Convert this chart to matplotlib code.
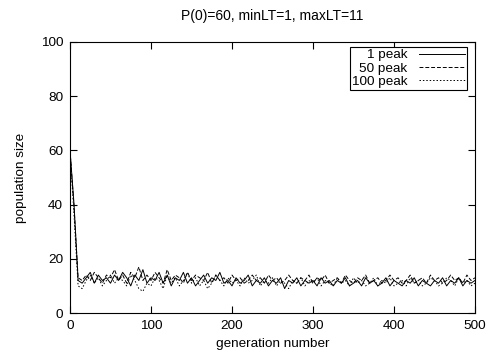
import numpy as np
import matplotlib
matplotlib.use('Agg')
import matplotlib.pyplot as plt

# population size sampled every 5 generations (0..500)
gen = np.arange(0, 501, 5)

peak_1 = [60, 40, 12, 11, 13, 15, 11, 14, 12, 13,
          11, 14, 12, 15, 13, 10, 14, 12, 16, 11,
          13, 12, 15, 11, 14, 10, 13, 12, 15, 11,
          13, 10, 12, 14, 11, 13, 12, 15, 11, 12,
          10, 13, 11, 12, 14, 10, 12, 11, 13, 10,
          12, 11, 13, 9, 12, 11, 13, 10, 12, 11,
          12, 10, 13, 11, 12, 10, 12, 11, 13, 10,
          11, 12, 10, 13, 11, 12, 10, 11, 13, 10,
          12, 11, 10, 12, 11, 13, 10, 12, 11, 10,
          12, 11, 13, 10, 12, 11, 13, 10, 12, 11,
          12]

peak_50 = [60, 39, 13, 12, 14, 12, 15, 13, 11, 14,
           13, 16, 12, 14, 11, 15, 13, 17, 12, 14,
           12, 15, 13, 11, 16, 12, 14, 13, 11, 15,
           12, 14, 13, 12, 15, 11, 14, 12, 13, 11,
           14, 12, 13, 11, 12, 14, 12, 13, 11, 14,
           12, 13, 11, 12, 14, 12, 11, 13, 12, 14,
           11, 13, 12, 14, 11, 12, 13, 11, 14, 12,
           11, 13, 12, 14, 11, 12, 13, 11, 12, 14,
           12, 13, 11, 12, 14, 11, 12, 13, 11, 14,
           12, 13, 11, 12, 14, 12, 13, 11, 14, 12,
           13]

peak_100 = [60, 36, 10, 9, 12, 14, 11, 13, 10, 12,
            14, 11, 13, 12, 10, 14, 12, 9, 8, 11,
            10, 13, 12, 9, 14, 11, 13, 10, 12, 15,
            11, 13, 10, 12, 9, 11, 14, 12, 10, 13,
            11, 12, 10, 13, 11, 12, 14, 10, 12, 11,
            13, 10, 12, 11, 9, 12, 11, 13, 10, 12,
            11, 13, 10, 12, 11, 10, 13, 11, 12, 10,
            13, 11, 12, 10, 11, 13, 10, 12, 11, 13,
            10, 11, 12, 10, 13, 11, 12, 10, 11, 13,
            12, 10, 11, 13, 12, 10, 13, 11, 12, 10,
            11]

labels = ['1 peak', '50 peak', '100 peak']
styles = ['-', (0, (4, 2)), (0, (1.5, 2))]

plt.rcParams['font.family'] = ['Liberation Sans', 'DejaVu Sans']
plt.rcParams['font.size'] = 9.7

fig = plt.figure(figsize=(4.98, 3.56), dpi=100)
ax = fig.add_axes([70 / 498, 43 / 356, 405 / 498, 271 / 356])

for series, lab, ls in zip([peak_1, peak_50, peak_100], labels, styles):
    ax.plot(gen, series, color='black', linestyle=ls, linewidth=0.7, label=lab)

ax.set_xlim(0, 500)
ax.set_ylim(0, 100)
ax.set_xticks(np.arange(0, 501, 100))
ax.set_yticks(np.arange(0, 101, 20))
ax.tick_params(direction='in', length=5, width=0.8, top=True, right=True, pad=5)
for sp in ax.spines.values():
    sp.set_linewidth(0.8)

ax.set_xlabel('generation number', labelpad=4)
ax.set_ylabel('population size', labelpad=10)
ax.set_title('P(0)=60, minLT=1, maxLT=11', fontsize=10, pad=16)

leg = ax.legend(loc='upper right', markerfirst=False, fancybox=False,
                edgecolor='black', framealpha=1, handlelength=3.4,
                borderpad=0.15, labelspacing=0.05, handletextpad=0.9,
                borderaxespad=0, bbox_to_anchor=(397 / 405, 266 / 271))
leg.get_frame().set_linewidth(0.8)

fig.savefig('out.png', dpi=100)
